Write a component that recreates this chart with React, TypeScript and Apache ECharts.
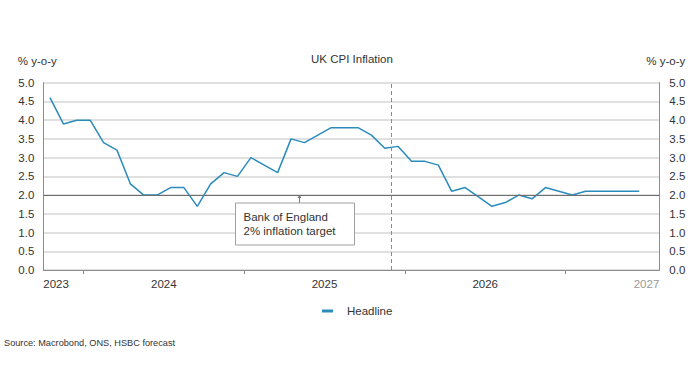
import React, { useEffect, useRef } from "react";
import * as echarts from "echarts";

const months = [
  "Oct 2023", "Nov 2023", "Dec 2023",
  "Jan 2024", "Feb 2024", "Mar 2024", "Apr 2024", "May 2024", "Jun 2024",
  "Jul 2024", "Aug 2024", "Sep 2024", "Oct 2024", "Nov 2024", "Dec 2024",
  "Jan 2025", "Feb 2025", "Mar 2025", "Apr 2025", "May 2025", "Jun 2025",
  "Jul 2025", "Aug 2025", "Sep 2025", "Oct 2025", "Nov 2025", "Dec 2025",
  "Jan 2026", "Feb 2026", "Mar 2026", "Apr 2026", "May 2026", "Jun 2026",
  "Jul 2026", "Aug 2026", "Sep 2026", "Oct 2026", "Nov 2026", "Dec 2026",
  "Jan 2027", "Feb 2027", "Mar 2027", "Apr 2027", "May 2027", "Jun 2027",
  "Jul 2027",
];

const headline = [
  4.6, 3.9, 4.0,
  4.0, 3.4, 3.2, 2.3, 2.0, 2.0, 2.2, 2.2, 1.7, 2.3, 2.6, 2.5,
  3.0, 2.8, 2.6, 3.5, 3.4, 3.6, 3.8, 3.8, 3.8, 3.6, 3.25, 3.3,
  2.9, 2.9, 2.8, 2.1, 2.2, 1.95, 1.7, 1.8, 2.0, 1.9, 2.2, 2.1,
  2.0, 2.1, 2.1, 2.1, 2.1, 2.1, null,
];

const yMin = 0;
const yMax = 5;
const yStep = 0.5;
const inflationTarget = 2;
const forecastStart = "Dec 2025";

const FONT = "'Liberation Sans', Arial, sans-serif";
const TEXT = "#333333";
const LINE_BLUE = "#2b8bbd";

export default function App() {
  const ref = useRef<HTMLDivElement>(null);

  useEffect(() => {
    if (!ref.current) return;
    const chart = echarts.init(ref.current, null, { renderer: "svg" });
    const n = months.length;
    const yearOf = (i: number) => months[Math.min(Math.max(Math.floor(i), 0), n - 1)].split(" ")[1];
    const janIdx = months.map((m, i) => (m.startsWith("Jan") ? i : -1)).filter((i) => i >= 0);
    const midYear = janIdx.filter((i) => i + 12 <= n).map((i) => i + 6);
    const labelValues = [0, ...midYear, n];
    const fcIdx = months.indexOf(forecastStart);

    chart.setOption({
      animation: false,
      textStyle: { fontFamily: FONT },
      title: [
        {
          text: "UK CPI Inflation",
          left: 311,
          top: 53,
          padding: 0,
          textStyle: { fontSize: 11.5, fontWeight: "normal", color: TEXT, fontFamily: FONT },
        },
        {
          text: "Source: Macrobond, ONS, HSBC forecast",
          left: 4,
          top: 338,
          padding: 0,
          textStyle: { fontSize: 9.2, fontWeight: "normal", color: TEXT, fontFamily: FONT },
        },
      ],
      legend: {
        data: ["Headline"],
        left: 322,
        top: 305,
        padding: 0,
        icon: "rect",
        itemWidth: 11,
        itemHeight: 3,
        textStyle: { fontSize: 11.5, color: TEXT, fontFamily: FONT, padding: [0, 0, 0, 9] },
      },
      grid: { left: 43.3, right: 36.7, top: 82.7, bottom: 120 },
      xAxis: {
        type: "value",
        min: 0,
        max: n,
        splitLine: { show: false },
        axisLine: { show: true, lineStyle: { color: "#8c8c8c", width: 1 } },
        axisTick: {
          show: true,
          customValues: janIdx,
          length: 4,
          lineStyle: { color: "#8c8c8c" },
        },
        axisLabel: {
          customValues: labelValues,
          alignMinLabel: "left",
          alignMaxLabel: "right",
          margin: 8,
          fontSize: 11.5,
          fontFamily: FONT,
          color: (v: any) => (Number(v) === n ? "#999999" : TEXT),
          formatter: (v: number) => yearOf(v),
        },
      },
      yAxis: [
        {
          type: "value",
          position: "left",
          min: yMin,
          max: yMax,
          interval: yStep,
          name: "% y-o-y",
          nameLocation: "end",
          nameGap: 16,
          nameTextStyle: { fontSize: 11.5, color: TEXT, fontFamily: FONT, align: "center", padding: [0, 12, 0, 0] },
          axisLine: { show: true, lineStyle: { color: "#8c8c8c" } },
          axisTick: { show: false },
          splitLine: { show: true, lineStyle: { color: "#d6d6d6", width: 1.5 } },
          axisLabel: { fontSize: 11.5, color: TEXT, fontFamily: FONT, margin: 9, formatter: (v: number) => v.toFixed(1) },
        },
        {
          type: "value",
          position: "right",
          min: yMin,
          max: yMax,
          interval: yStep,
          name: "% y-o-y",
          nameLocation: "end",
          nameGap: 16,
          nameTextStyle: { fontSize: 11.5, color: TEXT, fontFamily: FONT, align: "center", padding: [0, 0, 0, 13] },
          axisLine: { show: true, lineStyle: { color: "#8c8c8c" } },
          axisTick: { show: false },
          splitLine: { show: false },
          axisLabel: { fontSize: 11.5, color: TEXT, fontFamily: FONT, margin: 10, formatter: (v: number) => v.toFixed(1) },
        },
      ],
      series: [
        {
          name: "Headline",
          type: "line",
          data: headline.map((v, i) => [i + 0.5, v]),
          symbol: "none",
          connectNulls: false,
          lineStyle: { color: LINE_BLUE, width: 1.5 },
          itemStyle: { color: LINE_BLUE },
          z: 3,
          markLine: {
            silent: true,
            symbol: "none",
            label: { show: false },
            data: [
              { yAxis: inflationTarget, lineStyle: { color: "#6e6e6e", type: "solid", width: 1 } },
              { xAxis: fcIdx, lineStyle: { color: "#8a8a8a", type: [4, 3], width: 1 } },
            ],
          },
        },
      ],
      graphic: [
        {
          type: "group",
          left: 235,
          top: 195,
          z: 100,
          children: [
            { type: "line", z: 100, shape: { x1: 64, y1: 8.5, x2: 64, y2: 3 }, style: { stroke: "#777", lineWidth: 1 } },
            { type: "polygon", z: 100, shape: { points: [[62, 3.5], [66, 3.5], [64, 0.5]] }, style: { fill: "#777" } },
            {
              type: "rect",
              z: 100,
              shape: { x: 0, y: 8.5, width: 119, height: 42 },
              style: { fill: "#ffffff", stroke: "#a0a0a0", lineWidth: 1 },
            },
            {
              type: "text",
              z: 101,
              x: 8,
              y: 15.5,
              style: {
                text: "Bank of England\n2% inflation target",
                font: `11.5px ${FONT}`,
                fill: TEXT,
                lineHeight: 14,
              },
            },
          ],
        },
      ],
    });
    return () => chart.dispose();
  }, []);

  return <div ref={ref} style={{ position: "fixed", left: 0, top: 0, width: 696, height: 390, background: "#fff" }} />;
}
